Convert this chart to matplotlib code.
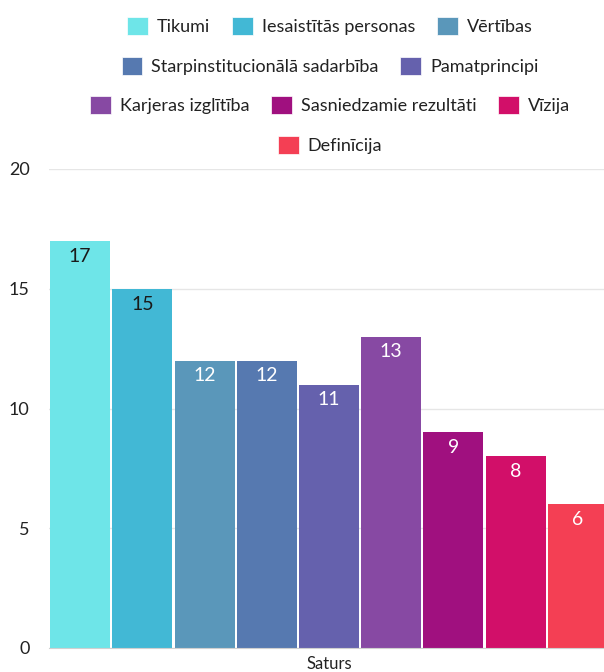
import matplotlib.pyplot as plt
from matplotlib.patches import Patch

plt.rcParams['font.family'] = ['Lato', 'DejaVu Sans']

# Data
category = "Saturs"
series = ["Tikumi", "Iesaistītās personas", "Vērtības", "Starpinstitucionālā sadarbība",
          "Pamatprincipi", "Karjeras izglītība", "Sasniedzamie rezultāti", "Vīzija", "Definīcija"]
values = [17, 15, 12, 12, 11, 13, 9, 8, 6]
colors = ["#6EE5E8", "#42B8D5", "#5A97BA", "#5679B0", "#6561AD",
          "#8749A3", "#A0107F", "#D20F69", "#F43F54"]
label_colors = ["#1a1a1a", "#1a1a1a"] + ["white"] * 7
legend_rows = [3, 2, 3, 1]

fig = plt.figure(figsize=(6.04, 6.72), dpi=100)
ax = fig.add_axes([49 / 604, 24 / 672, 560 / 604, 479 / 672])

x = list(range(len(values)))
bars = ax.bar(x, values, width=0.965, color=colors, zorder=2)

for b, v, c in zip(bars, values, label_colors):
    ax.annotate(str(v), (b.get_x() + b.get_width() / 2, v), xytext=(0, -11),
                textcoords="offset points", ha="center", va="center",
                fontsize=14, color=c, zorder=3)

ax.set_xlim(-0.5, len(values) - 0.5)
ax.set_ylim(0, 20)
ax.set_yticks([0, 5, 10, 15, 20])
ax.set_xticks([(len(values) - 1) / 2])
ax.set_xticklabels([category])
ax.tick_params(axis="y", length=0, pad=14, labelsize=13, labelcolor="#222222")
ax.tick_params(axis="x", length=0, pad=6, labelsize=12, labelcolor="#222222")
ax.grid(axis="y", color="#e6e6e6", linewidth=1, zorder=0)
for s in ["top", "right", "left"]:
    ax.spines[s].set_visible(False)
ax.spines["bottom"].set_color("#d0d0d0")

# legend, centred rows
handles = [Patch(facecolor=c, edgecolor="white", linewidth=0.5) for c in colors]
row_y = [26, 66, 105, 145]
start = 0
for n, y in zip(legend_rows, row_y):
    fig.legend(handles[start:start + n], series[start:start + n], loc="center",
               bbox_to_anchor=(330 / 604, 1 - y / 672), ncol=n, frameon=False,
               fontsize=13, handlelength=1.15, handleheight=1.15,
               handletextpad=0.5, columnspacing=1.2, borderaxespad=0,
               labelcolor="#222222")
    start += n

fig.savefig("out.png", dpi=100)
